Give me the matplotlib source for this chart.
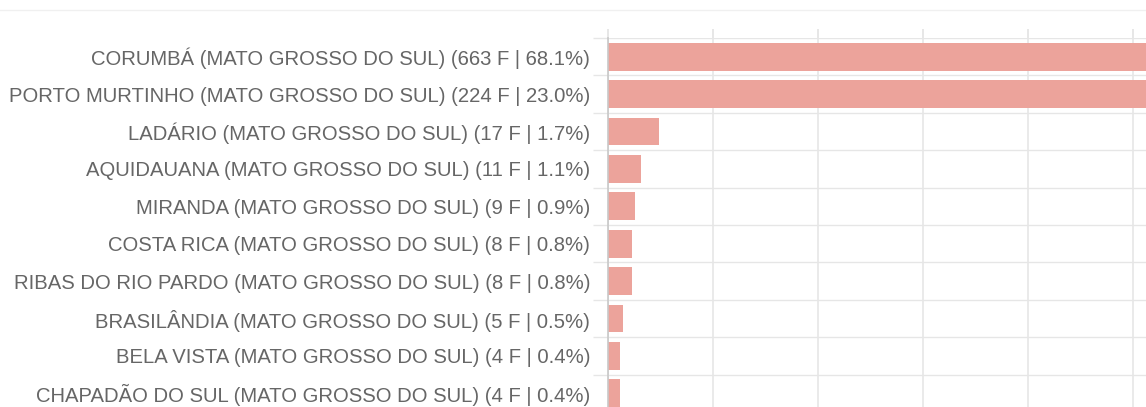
import matplotlib.pyplot as plt
from matplotlib.ticker import MultipleLocator
from matplotlib.lines import Line2D
import numpy as np

# municipios e contagens (F) com percentual
cidades = ["CORUMBÁ", "PORTO MURTINHO", "LADÁRIO", "AQUIDAUANA", "MIRANDA",
           "COSTA RICA", "RIBAS DO RIO PARDO", "BRASILÂNDIA", "BELA VISTA",
           "CHAPADÃO DO SUL"]
estado = "MATO GROSSO DO SUL"
contagem = [663, 224, 17, 11, 9, 8, 8, 5, 4, 4]
percentual = [68.1, 23.0, 1.7, 1.1, 0.9, 0.8, 0.8, 0.5, 0.4, 0.4]

labels = [f"{c} ({estado}) ({n} F | {p:.1f}%)" for c, n, p in zip(cidades, contagem, percentual)]

plt.rcParams['font.family'] = ['Liberation Sans', 'DejaVu Sans']

W, H = 1146, 407
fig = plt.figure(figsize=(W / 100, H / 100), dpi=100)

# eixo: esquerda em x=607.5 px, linhas a partir de y=38 px
x0 = 607.5
top = 38.0
row_h = 37.4
n = len(cidades)
ax = fig.add_axes([x0 / W, 1 - (top + n * row_h) / H, 1 - x0 / W, n * row_h / H])

y = np.arange(n)
ax.barh(y, contagem, height=0.74, color='#eca39b', zorder=2)

px_per_unit = 3.0
ax.set_xlim(0, (W - x0) / px_per_unit)
ax.set_ylim(n - 0.5, -0.5)

ax.set_yticks(y)
ax.set_yticklabels(labels, fontsize=14.6, color='#666666', va='center_baseline')
ax.set_yticks(np.arange(n + 1) - 0.5, minor=True)
ax.tick_params(axis='y', which='major', length=0, pad=12.5)
ax.tick_params(axis='y', which='minor', length=11, color='#e6e6e6', width=1)
ax.grid(axis='y', which='minor', color='#e6e6e6', lw=1, zorder=0)

ax.xaxis.set_major_locator(MultipleLocator(35))
ax.xaxis.tick_top()
ax.tick_params(axis='x', which='major', length=6.5, color='#e3e3e3', width=1.2,
               labeltop=False, labelbottom=False)
ax.grid(axis='x', which='major', color='#e6e6e6', lw=1.2, zorder=0)

for s in ['top', 'right', 'bottom']:
    ax.spines[s].set_visible(False)
ax.spines['left'].set_color('#c8c8c8')
ax.spines['left'].set_linewidth(1.2)
ax.spines['left'].set_zorder(3)

fig.add_artist(Line2D([0, 1], [1 - 10 / H, 1 - 10 / H], color='#f0f0f0', lw=1))

fig.savefig('out.png', dpi=100)
